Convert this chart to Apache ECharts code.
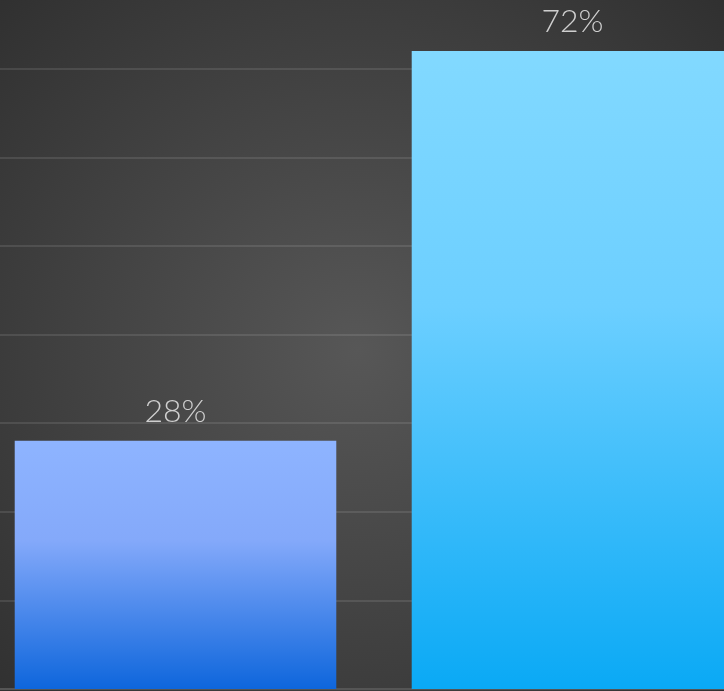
<!DOCTYPE html>
<html><head><meta charset="utf-8">
<script src="https://cdn.jsdelivr.net/npm/echarts@6/dist/echarts.min.js"></script>
<style>html,body{margin:0;padding:0;background:#3a3a3a;overflow:hidden;width:724px;height:691px;position:relative}
#c{position:absolute;left:-23px;top:-20px;width:794px;height:711px}</style>
</head><body><div id="c"></div>
<script>
const categories = ['A', 'B'];
const values = [28, 72];
const topColors = ['#8eb4ff', '#82d9ff'];
const midColors = ['#84a9fa', '#6ccfff'];
const bottomColors = ['#0e66dc', '#0aa9f5'];

const chart = echarts.init(document.getElementById('c'));
chart.setOption({
  backgroundColor: {
    type: 'radial', x: 0.48, y: 0.52, r: 0.75,
    colorStops: [{offset: 0, color: '#575757'}, {offset: 1, color: '#2e2e2e'}]
  },
  grid: {left: 0, right: 0, top: 0, bottom: 2, containLabel: false},
  xAxis: {
    type: 'category', data: categories,
    axisLine: {show: true, lineStyle: {color: '#555', width: 2}},
    axisTick: {show: false}, axisLabel: {show: false}
  },
  yAxis: {
    type: 'value', min: 0, max: 80, interval: 10,
    axisLine: {show: false}, axisTick: {show: false}, axisLabel: {show: false},
    splitLine: {lineStyle: {color: 'rgba(255,255,255,0.1)', width: 2}}
  },
  series: [{
    type: 'bar',
    barWidth: '81%',
    data: values.map((v, i) => ({
      value: v,
      itemStyle: {
        color: {
          type: 'linear', x: 0, y: 0, x2: 0, y2: 1,
          colorStops: [{offset: 0, color: topColors[i]}, {offset: 0.4, color: midColors[i]}, {offset: 1, color: bottomColors[i]}]
        }
      }
    })),
    label: {
      show: true, position: 'top', distance: 13,
      formatter: '{c}%',
      color: '#cfcfcf', fontSize: 32, fontWeight: 300, fontFamily: 'Lato, "Open Sans", sans-serif'
    }
  }]
});
</script></body></html>
